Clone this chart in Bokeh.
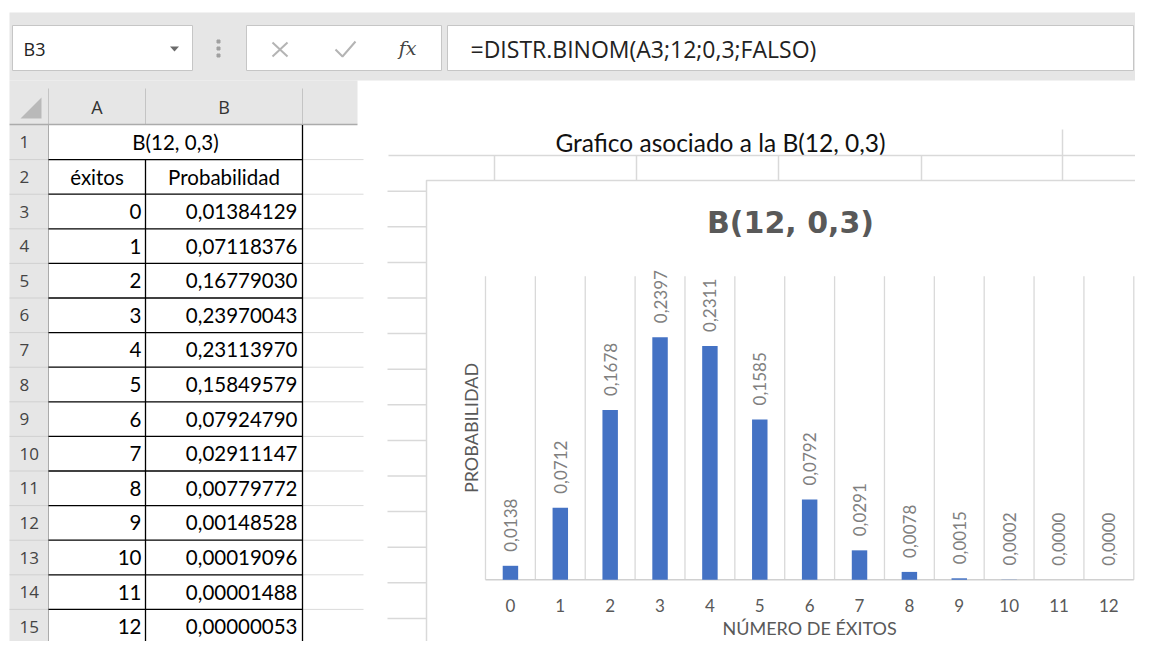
import math
from bokeh.plotting import figure
from bokeh.models import Range1d
from bokeh.core.properties import value
from bokeh.embed import file_html
from bokeh.resources import INLINE

# ---------------- data ----------------
exitos = list(range(13))
probabilidad = [0.01384129, 0.07118376, 0.16779030, 0.23970043, 0.23113970,
                0.15849579, 0.07924790, 0.02911147, 0.00779772, 0.00148528,
                0.00019096, 0.00001488, 0.00000053]
y_max = 0.3
chart_title = "B(12, 0,3)"
x_title = "NÚMERO DE ÉXITOS"
y_title = "PROBABILIDAD"
sheet_caption = "Grafico asociado a la B(12, 0,3)"
formula_text = "=DISTR.BINOM(A3;12;0,3;FALSO)"
name_box = "B3"
col_headers = ["A", "B"]
merged_title = "B(12, 0,3)"
header_cells = ["éxitos", "Probabilidad"]
row_numbers = [str(k) for k in range(1, 16)]


def coma(v, d):
    return f"{v:.{d}f}".replace(".", ",")


bar_labels = [coma(v, 4) for v in probabilidad]
cell_values = [coma(v, 8) for v in probabilidad]
tick_labels = [str(k) for k in exitos]

# ---------------- figure in picture-pixel coordinates ----------------
W, H = 1135, 641
OX, OY = 0, 0
p = figure(width=W, height=H, x_range=Range1d(OX, OX + W), y_range=Range1d(OY + H, OY),
           output_backend="svg", toolbar_location=None, min_border=0,
           x_axis_location=None, y_axis_location=None)
p.grid.visible = False
p.outline_line_color = None
p.background_fill_color = "white"
p.border_fill_color = "white"

GREY_BG = "#e6e6e6"
RIGHT = OX + W
BOTTOM = OY + H

CAL = "Lato"
SEG = "Open Sans"


def txt(x, y, s, size, color="#000000", align="left", baseline="middle", font=CAL,
        style="normal", angle=0.0, **kw):
    p.text(x=x if isinstance(x, list) else [x], y=y if isinstance(y, list) else [y],
           text=s if isinstance(s, list) else [s],
           text_font=value(font), text_font_size=f"{size}px", text_color=color,
           text_align=align, text_baseline=baseline, text_font_style=style, angle=angle, **kw)


def hline(y, x0, x1, color, w=1.0):
    p.segment(x0=[x0], y0=[y], x1=[x1], y1=[y], line_color=color, line_width=w)


def vline(x, y0, y1, color, w=1.0):
    p.segment(x0=[x], y0=[y0], x1=[x], y1=[y1], line_color=color, line_width=w)


def box(l, r, t, b, fill, line=None, w=1.0):
    p.quad(left=[l], right=[r], top=[t], bottom=[b], fill_color=fill,
           line_color=line, line_width=w)


# ---------------- ribbon / formula bar ----------------
box(9, RIGHT, 12, 80, GREY_BG)
box(9, 357, 80, 123.5, GREY_BG)
box(12, 192, 25, 70, "white", "#c6c6c6")
txt(23, 48, name_box, 18, "#222222", font=SEG)
p.patch(x=[169.5, 178.5, 174], y=[46, 46, 51], fill_color="#6b6b6b", line_color=None)
p.scatter(x=[218, 218, 218], y=[41, 48, 55], size=3, color="#a0a0a0", marker="square")
box(246, 441, 25, 70, "white", "#c6c6c6")
p.segment(x0=[272, 272], y0=[42, 56], x1=[287, 287], y1=[56, 42], line_color="#b4b4b4", line_width=2)
p.line(x=[335, 342, 355], y=[49, 56, 41], line_color="#b4b4b4", line_width=2)
txt(407, 47, "fx", 19, "#444444", align="center", font="DejaVu Serif", style="italic")
box(447, RIGHT - 2, 25, 70, "white", "#c6c6c6")
txt(470, 48, formula_text, 23, "#222222", font=SEG)

# ---------------- spreadsheet (left) ----------------
ROW0, RH = 124.5, 34.6
n_rows = len(row_numbers)
bounds = [ROW0 + RH * k for k in range(n_rows + 1)]
centers = [ROW0 + RH * (k + 0.5) for k in range(n_rows)]

box(9, 48, ROW0, BOTTOM, GREY_BG)
# column header row
vline(48, 88, ROW0, "#c4c4c4")
vline(145, 88, ROW0, "#c4c4c4")
vline(302, 88, ROW0, "#c4c4c4")
hline(ROW0 - 0.5, 9, 357, "#ababab", 1.5)
p.patch(x=[20, 41, 41], y=[118, 118, 97], fill_color="#b9b9b9", line_color=None)
txt([96.5, 223.5], [106, 106], col_headers, 18, "#333333", align="center", font=SEG)
# row headers
for yb in bounds[1:]:
    hline(yb, 9, 48, "#d0d0d0")
vline(48, ROW0, BOTTOM, "#ababab")
txt([19] * n_rows, centers, row_numbers, 17, "#444444", font=SEG)
# column C gridlines
for yb in bounds[1:]:
    hline(yb, 302, 363, "#dadada")
# cell borders
for yb in bounds[1:]:
    hline(yb, 48, 302, "#000000", 1.3)
vline(145, bounds[1], BOTTOM, "#000000", 1.3)
vline(302, ROW0, BOTTOM, "#000000", 1.3)
# cell texts
txt(175, centers[0], merged_title, 20.5, align="center")
txt([96.5, 223.5], [centers[1]] * 2, header_cells, 20.5, align="center")
data_rows = centers[2:2 + len(exitos)]
txt([141] * len(exitos), data_rows, [str(k) for k in exitos], 20.5, align="right")
txt([297] * len(exitos), data_rows, cell_values, 20.5, align="right")

# ---------------- right panel (sheet behind chart) ----------------
txt(720, 142, sheet_caption, 24.5, "#111111", align="center")
hline(155, 388, RIGHT, "#d9d9d9", 1.5)
for xv in [494, 636, 778, 921]:
    vline(xv, 155, 180, "#d9d9d9", 1.5)
vline(1062, 129, 180, "#d9d9d9", 1.5)
for k in range(14):
    hline(190.7 + 35.6 * k, 387, 426, "#d9d9d9", 1.5)
box(426, RIGHT + 5, 180, BOTTOM + 5, "white", "#d9d9d9", 1.5)

# ---------------- chart ----------------
PL, PR, PT, PB = 485.0, 1133.3, 275.7, 579.3
cat_lo, cat_hi = -0.5, len(exitos) - 0.5
ux = (cat_hi - cat_lo) / (PR - PL)
uy = y_max / (PB - PT)
p.extra_x_ranges = {"cat": Range1d(cat_lo - (PL - OX) * ux, cat_hi + (OX + W - PR) * ux)}
p.extra_y_ranges = {"prob": Range1d(-(OY + H - PB) * uy, y_max + (PT - OY) * uy)}
R = dict(x_range_name="cat", y_range_name="prob")

edges = [k - 0.5 for k in range(len(exitos) + 1)]
p.segment(x0=edges, y0=[0] * len(edges), x1=edges, y1=[y_max] * len(edges),
          line_color="#d9d9d9", line_width=1.3, **R)
p.segment(x0=[cat_lo], y0=[0], x1=[cat_hi], y1=[0], line_color="#d0d0d0", line_width=1.5, **R)
p.vbar(x=exitos, top=probabilidad, bottom=0, width=0.31, fill_color="#4472C4",
       line_color=None, **R)
p.text(x=exitos, y=probabilidad, text=bar_labels, angle=math.pi / 2, y_offset=-14,
       text_align="left", text_baseline="middle", text_font=value(CAL),
       text_font_size="17px", text_color="#7f7f7f", **R)
p.text(x=exitos, y=[0] * len(exitos), text=tick_labels, y_offset=26,
       text_align="center", text_baseline="middle", text_font=value(CAL),
       text_font_size="17px", text_color="#595959", **R)

txt((PL + PR) / 2, 627, x_title, 18, "#595959", align="center")
txt(470, (PT + PB) / 2, y_title, 18, "#595959", align="center", angle=math.pi / 2)
txt(790, 222, chart_title, 30, "#595959", align="center", font="DejaVu Sans", style="bold")

open("out.html", "w").write(file_html(p, INLINE))
